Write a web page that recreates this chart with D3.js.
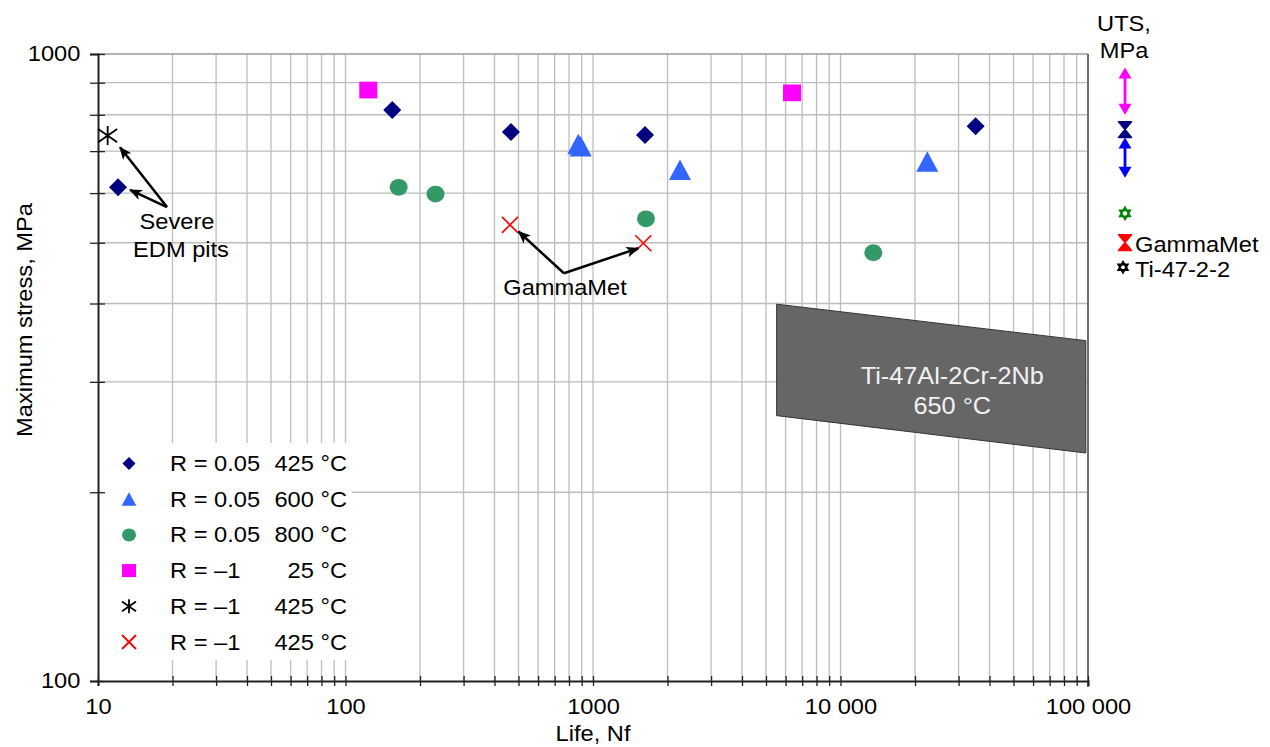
<!DOCTYPE html>
<html>
<head>
<meta charset="utf-8">
<script src="https://cdn.jsdelivr.net/npm/d3@7"></script>
<style>
  body { margin: 0; background: #fff; }
  text { font-family: "Liberation Sans", Arial, sans-serif; }
</style>
</head>
<body>
<div id="canvas"></div>
<script>
// Chart size and plot box
var w = 1270;
var h = 747;
var margin = {top: 54, right: 182, bottom: 66, left: 98};
var sx = 1.1; // text in the source is a bit wide, stretch horizontally

// Axis ticks
const lifeTicks = [10, 100, 1000, 10000, 100000];
const lifeTickLabels = ["10", "100", "1000", "10 000", "100 000"];
const stressTicks = [100, 1000];
const stressTickLabels = ["100", "1000"];

// Series (legend order)
const seriesLabels = ["R = 0.05", "R = 0.05", "R = 0.05", "R = \u20131", "R = \u20131", "R = \u20131"];
const seriesTemps = ["425 \u00b0C", "600 \u00b0C", "800 \u00b0C", "25 \u00b0C", "425 \u00b0C", "425 \u00b0C"];

// Life (cycles) and max stress (MPa) for each series
const lifeR005at425 = [12.05, 154.5, 466, 1622, 35150];
const stressR005at425 = [613, 814, 751, 743, 767];
const lifeR005at600 = [872, 892, 2246, 22420];
const stressR005at600 = [718, 712, 653, 673];
const lifeR005at800 = [164, 231, 1637, 13570];
const stressR005at800 = [613, 598, 546, 482];
const lifeRm1at25 = [123.6, 6368];
const stressRm1at25 = [876, 867];
const lifeRm1at425 = [10.94];
const stressRm1at425 = [741];
const lifeGammaMet = [462, 1597];
const stressGammaMet = [534, 499];

// Ti-47Al-2Cr-2Nb 650 °C scatter band
const bandLife = [5520, 98000];
const bandUpper = [399, 349];
const bandLower = [265, 231];

// UTS column (MPa)
const utsNames = ["25 \u00b0C", "425 \u00b0C", "600 \u00b0C", "800 \u00b0C", "GammaMet", "Ti-47-2-2"];
const utsHigh = [952, 780, 736, 557, 515, 457];
const utsLow = [800, 736, 635, 557, 486, 457];
const utsTexts = ["", "", "", "", "GammaMet", "Ti-47-2-2"];

// styles, kept apart from the values
const seriesColors = ["#000080", "#3366ff", "#339966", "#ff00ff", "#000000", "#ff0000"];
const seriesShapes = ["diamond", "triangle", "circle", "square", "asterisk", "cross"];
const utsColors = ["#ff00ff", "#000080", "#0000ff", "#008000", "#ff0000", "#000000"];
const utsKinds = ["out", "in", "out", "star", "in", "star"];

var seriesData = [
    {life: lifeR005at425, stress: stressR005at425},
    {life: lifeR005at600, stress: stressR005at600},
    {life: lifeR005at800, stress: stressR005at800},
    {life: lifeRm1at25, stress: stressRm1at25},
    {life: lifeRm1at425, stress: stressRm1at425},
    {life: lifeGammaMet, stress: stressGammaMet}
];

var svg = d3.select("#canvas")
    .append("svg")
    .attr("width", w)
    .attr("height", h)
    .style("background-color", "white");

let x = d3.scaleLog()
    .domain([10, 100000])
    .range([margin.left, w - margin.right]);

let y = d3.scaleLog()
    .domain([100, 1000])
    .range([h - margin.bottom, margin.top]);

// minor values between the decades
let lifeMinor = [];
[10, 100, 1000, 10000].forEach(d => { for (let k = 2; k <= 9; k++) lifeMinor.push(d * k); });
let stressMinor = [];
for (let k = 2; k <= 9; k++) stressMinor.push(100 * k);

// arrowheads
var defs = svg.append("defs");
defs.append("marker")
    .attr("id", "head")
    .attr("markerUnits", "userSpaceOnUse")
    .attr("viewBox", "0 -5 12 10")
    .attr("refX", 11)
    .attr("refY", 0)
    .attr("markerWidth", 13)
    .attr("markerHeight", 11)
    .attr("orient", "auto")
    .append("path")
    .attr("d", "M0,-5L12,0L0,5L3,0Z")
    .attr("fill", "black");

function addText(parent, tx, ty, str, size, anchor, fill) {
    return parent.append("text")
        .attr("transform", `translate(${tx},${ty}) scale(${sx},1)`)
        .attr("dy", "0.35em")
        .attr("text-anchor", anchor || "start")
        .style("font-size", (size || 21.5) + "px")
        .style("fill", fill || "black")
        .text(str);
}

// Gridlines
var grid = svg.append("g");
grid.selectAll(".vgrid")
    .data(lifeMinor.concat([100, 1000, 10000]))
    .join("line")
    .attr("x1", d => x(d)).attr("x2", d => x(d))
    .attr("y1", margin.top).attr("y2", h - margin.bottom)
    .attr("stroke", "#bdbdbd")
    .attr("stroke-width", 1.3);
grid.selectAll(".hgrid")
    .data(stressMinor)
    .join("line")
    .attr("x1", margin.left).attr("x2", w - margin.right)
    .attr("y1", d => y(d)).attr("y2", d => y(d))
    .attr("stroke", "#bdbdbd")
    .attr("stroke-width", 1.3);

// top and right frame
svg.append("line")
    .attr("x1", margin.left).attr("x2", w - margin.right)
    .attr("y1", y(1000)).attr("y2", y(1000))
    .attr("stroke", "#9a9a9a").attr("stroke-width", 1.5);
svg.append("line")
    .attr("x1", x(100000)).attr("x2", x(100000))
    .attr("y1", margin.top).attr("y2", h - margin.bottom + 6)
    .attr("stroke", "#707070").attr("stroke-width", 2);

// Scatter band
var bandPts = [
    [x(bandLife[0]), y(bandUpper[0])],
    [x(bandLife[1]), y(bandUpper[1])],
    [x(bandLife[1]), y(bandLower[1])],
    [x(bandLife[0]), y(bandLower[0])]
];
svg.append("path")
    .attr("d", d3.line()(bandPts) + "Z")
    .attr("fill", "#666666")
    .attr("stroke", "#333")
    .attr("stroke-width", 1);
var bandCx = x(Math.sqrt(bandLife[0] * bandLife[1])) + 21;
var bandCy = (y(bandUpper[0]) + y(bandLower[1])) / 2;
addText(svg, bandCx, bandCy - 3, "Ti-47Al-2Cr-2Nb", 23, "middle", "#f2f2f2");
addText(svg, bandCx, bandCy + 27, "650 \u00b0C", 23, "middle", "#f2f2f2");

// Legend box (white, hides grid)
var legend = svg.append("g");
legend.append("rect")
    .attr("x", margin.left + 4).attr("y", 443)
    .attr("width", 250).attr("height", 217)
    .attr("fill", "white");

// Axes
var xAxis = svg.append("g")
    .attr("transform", `translate(0,${h - margin.bottom})`)
    .call(d3.axisBottom(x)
        .tickValues(lifeTicks.concat(lifeMinor))
        .tickSize(5)
        .tickFormat(d => { let i = lifeTicks.indexOf(d); return i >= 0 ? lifeTickLabels[i] : ""; }));
xAxis.select(".domain").attr("stroke", "#222").attr("stroke-width", 2);
xAxis.selectAll(".tick line").attr("y1", -5).attr("stroke", "#222").attr("stroke-width", 1.3);
xAxis.selectAll(".tick text")
    .attr("y", 18)
    .attr("transform", `scale(${sx},1)`)
    .style("font-size", "21.5px")
    .style("font-family", "'Liberation Sans', Arial, sans-serif")
    .attr("fill", "black");

var yAxis = svg.append("g")
    .attr("transform", `translate(${margin.left},0)`)
    .call(d3.axisLeft(y)
        .tickValues(stressTicks.concat(stressMinor))
        .tickSize(8)
        .tickPadding(8)
        .tickFormat(d => { let i = stressTicks.indexOf(d); return i >= 0 ? stressTickLabels[i] : ""; }));
yAxis.select(".domain").attr("stroke", "#222").attr("stroke-width", 2);
yAxis.selectAll(".tick line").attr("x1", 7).attr("stroke", "#222").attr("stroke-width", 1.3);
yAxis.selectAll(".tick text")
    .attr("transform", `scale(${sx},1)`)
    .style("font-size", "21.5px")
    .style("font-family", "'Liberation Sans', Arial, sans-serif")
    .attr("fill", "black");

// Axis titles
addText(svg, (margin.left + w - margin.right) / 2, 733, "Life, Nf", 21.5, "middle");
svg.append("text")
    .attr("transform", `translate(24,320) rotate(-90) scale(${sx},1)`)
    .attr("dy", "0.35em")
    .attr("text-anchor", "middle")
    .style("font-size", "21.5px")
    .text("Maximum stress, MPa");

// marker shapes
function shapePath(shape, r) {
    switch (shape) {
        case "diamond": return `M0,${-r}L${r},0L0,${r}L${-r},0Z`;
        case "triangle": return `M0,${-r}L${r * 1.05},${r * 0.95}L${-r * 1.05},${r * 0.95}Z`;
        case "circle": return `M${-r},0A${r},${r * 0.93} 0 1,0 ${r},0A${r},${r * 0.93} 0 1,0 ${-r},0Z`;
        case "square": return `M${-r},${-r * 0.93}H${r}V${r * 0.93}H${-r}Z`;
        case "asterisk": return `M0,${-r}V${r}M${-r},${-r * 0.7}L${r},${r * 0.7}M${-r},${r * 0.7}L${r},${-r * 0.7}`;
        case "cross": return `M${-r},${-r}L${r},${r}M${-r},${r}L${r},${-r}`;
    }
}
function isLine(shape) { return shape === "asterisk" || shape === "cross"; }
var plotR = {diamond: 9, triangle: 10.5, circle: 9, square: 9, asterisk: 9.5, cross: 8};
var legR = {diamond: 6.5, triangle: 7, circle: 7, square: 7, asterisk: 7, cross: 7};

// Data points
seriesData.forEach((s, i) => {
    let shape = seriesShapes[i];
    let pts = s.life.map((l, j) => [l, s.stress[j]]);
    svg.append("g").selectAll("path")
        .data(pts)
        .join("path")
        .attr("transform", d => `translate(${x(d[0])},${y(d[1])})`)
        .attr("d", shapePath(shape, plotR[shape]))
        .attr("fill", isLine(shape) ? "none" : seriesColors[i])
        .attr("stroke", isLine(shape) ? seriesColors[i] : "none")
        .attr("stroke-width", shape === "cross" ? 1.6 : 1.8);
});

// Legend rows
seriesLabels.forEach((lab, i) => {
    let ry = 463.5 + i * 35.7;
    let shape = seriesShapes[i];
    legend.append("path")
        .attr("transform", `translate(129,${ry})`)
        .attr("d", shapePath(shape, legR[shape]))
        .attr("fill", isLine(shape) ? "none" : seriesColors[i])
        .attr("stroke", isLine(shape) ? seriesColors[i] : "none")
        .attr("stroke-width", 1.8);
    addText(legend, 170, ry, lab, 21.5, "start");
    addText(legend, 347, ry, seriesTemps[i], 21.5, "end");
});

// Annotations with arrows
function arrow(from, to) {
    svg.append("line")
        .attr("x1", x(from[0])).attr("y1", y(from[1]))
        .attr("x2", x(to[0])).attr("y2", y(to[1]))
        .attr("stroke", "black")
        .attr("stroke-width", 2.5)
        .attr("marker-end", "url(#head)");
}
arrow([19.0, 570], [12.27, 710]);
arrow([19.0, 570], [13.47, 607]);
addText(svg, 177, 221, "Severe", 21.5, "middle");
addText(svg, 181, 249, "EDM pits", 21.5, "middle");

arrow([763, 447], [500, 521]);
arrow([763, 447], [1524, 490]);
addText(svg, 565, 287, "GammaMet", 21.5, "middle");

// UTS column
var utsX = 1125;
var uts = svg.append("g");
addText(uts, 1124, 23, "UTS,", 21.5, "middle");
addText(uts, 1124, 50, "MPa", 21.5, "middle");

function hexagram(r) {
    let p1 = [], p2 = [];
    for (let k = 0; k < 3; k++) {
        let a1 = -Math.PI / 2 + k * 2 * Math.PI / 3;
        let a2 = Math.PI / 2 + k * 2 * Math.PI / 3;
        p1.push([r * Math.cos(a1), r * Math.sin(a1)]);
        p2.push([r * Math.cos(a2), r * Math.sin(a2)]);
    }
    return d3.line()(p1) + "Z" + d3.line()(p2) + "Z";
}

utsNames.forEach((n, i) => {
    let col = utsColors[i];
    let yTop = y(utsHigh[i]);
    let yBot = y(utsLow[i]);
    let hw = 6.5, hl = 11;
    if (utsKinds[i] === "out") {
        uts.append("line")
            .attr("x1", utsX).attr("x2", utsX)
            .attr("y1", yTop + hl - 1).attr("y2", yBot - hl + 1)
            .attr("stroke", col).attr("stroke-width", 2.8);
        uts.append("path")
            .attr("d", `M${utsX},${yTop}L${utsX + hw},${yTop + hl}L${utsX - hw},${yTop + hl}Z`)
            .attr("fill", col);
        uts.append("path")
            .attr("d", `M${utsX},${yBot}L${utsX + hw},${yBot - hl}L${utsX - hw},${yBot - hl}Z`)
            .attr("fill", col);
    } else if (utsKinds[i] === "in") {
        let mid = (yTop + yBot) / 2;
        uts.append("path")
            .attr("d", `M${utsX - hw},${yTop}L${utsX + hw},${yTop}L${utsX},${mid}Z` +
                       `M${utsX - hw},${yBot}L${utsX + hw},${yBot}L${utsX},${mid}Z`)
            .attr("fill", col)
            .attr("stroke", col)
            .attr("stroke-width", 1.5)
            .attr("stroke-linejoin", "round");
    } else {
        uts.append("path")
            .attr("transform", `translate(${utsX - (i === 5 ? 2 : 0)},${yTop})`)
            .attr("d", hexagram(i === 5 ? 5.5 : 6))
            .attr("fill", "none")
            .attr("stroke", col)
            .attr("stroke-width", 1.8);
    }
    if (utsTexts[i]) {
        addText(uts, 1135, (yTop + yBot) / 2 + 2, utsTexts[i], 21.5, "start");
    }
});
</script>
</body>
</html>
